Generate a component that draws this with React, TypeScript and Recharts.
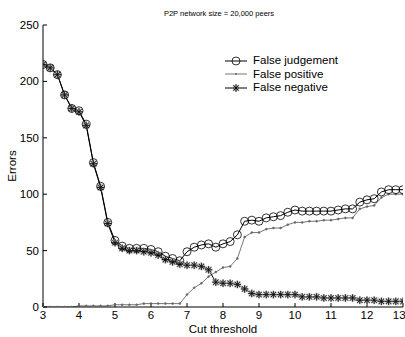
import React from 'react';
import { LineChart, Line, XAxis, YAxis, Legend } from 'recharts';

const thresholds = [
  3, 3.2, 3.4, 3.6, 3.8, 4, 4.2, 4.4, 4.6, 4.8,
  5, 5.2, 5.4, 5.6, 5.8, 6, 6.2, 6.4, 6.6, 6.8,
  7, 7.2, 7.4, 7.6, 7.8, 8, 8.2, 8.4, 8.6, 8.8,
  9, 9.2, 9.4, 9.6, 9.8, 10, 10.2, 10.4, 10.6, 10.8,
  11, 11.2, 11.4, 11.6, 11.8, 12, 12.2, 12.4, 12.6, 12.8, 13,
];
const falseJudgement = [
  215, 212, 206, 188, 176, 174, 162, 128, 107, 75,
  59, 54, 52, 52, 52, 51, 49, 45, 43, 41,
  49, 53, 55, 56, 53, 56, 58, 64, 76, 77,
  76, 79, 80, 81, 84, 86, 85, 85, 85, 85,
  85, 86, 87, 87, 93, 95, 96, 102, 104, 104, 104,
];
const falsePositive = [
  0, 0, 0, 0, 0, 1, 1, 1, 1, 1,
  2, 2, 2, 2, 3, 3, 3, 3, 3, 3,
  11, 17, 21, 27, 31, 35, 36, 43, 62, 66,
  66, 69, 70, 70, 73, 75, 75, 76, 76, 77,
  77, 78, 79, 79, 87, 89, 90, 97, 100, 100, 100,
];
const falseNegative = [
  215, 212, 206, 188, 176, 173, 161, 127, 106, 74,
  57, 52, 50, 50, 49, 48, 46, 42, 40, 38,
  37, 37, 36, 33, 22, 21, 21, 20, 16, 12,
  11, 11, 11, 11, 11, 11, 9, 9, 9, 8,
  8, 8, 8, 8, 6, 6, 6, 5, 5, 5, 5,
];
const xTicks = [3, 4, 5, 6, 7, 8, 9, 10, 11, 12, 13];
const yTicks = [0, 50, 100, 150, 200, 250];
const seriesNames = ['False judgement', 'False positive', 'False negative'];
const title = 'P2P network size = 20,000 peers';
const xLabel = 'Cut threshold';
const yLabel = 'Errors';

const data = thresholds.map((t, i) => ({
  t,
  fj: falseJudgement[i],
  fp: falsePositive[i],
  fn: falseNegative[i],
}));

const FONT = '"Liberation Sans", Arial, Helvetica, sans-serif';

const StarShape = ({ cx, cy, size, color, width }: any) => {
  const d = size * 0.72;
  return (
    <g stroke={color} strokeWidth={width}>
      <line x1={cx - size} y1={cy} x2={cx + size} y2={cy} />
      <line x1={cx} y1={cy - size} x2={cx} y2={cy + size} />
      <line x1={cx - d} y1={cy - d} x2={cx + d} y2={cy + d} />
      <line x1={cx - d} y1={cy + d} x2={cx + d} y2={cy - d} />
    </g>
  );
};

const Star = ({ cx, cy }: any) => {
  if (cx == null || cy == null) return null;
  return (
    <g>
      <StarShape cx={cx} cy={cy} size={4} color="#aaa" width={1.8} />
      <StarShape cx={cx} cy={cy} size={3.6} color="#111" width={0.9} />
    </g>
  );
};

const renderLegend = () => (
  <div style={{ fontFamily: FONT, fontSize: 11.5, color: '#000', lineHeight: '13.5px' }}>
    {seriesNames.map((name, i) => (
      <div key={name} style={{ display: 'flex', alignItems: 'center', height: 13.5 }}>
        <svg width={22} height={12} style={{ display: 'block' }}>
          <line x1={0} y1={6} x2={22} y2={6} stroke={i === 1 ? '#777' : '#000'} strokeWidth={1} />
          {i === 0 && <circle cx={11} cy={6} r={4} fill="none" stroke="#000" strokeWidth={0.8} />}
          {i === 1 && <circle cx={11} cy={6} r={1} fill="#666" />}
          {i === 2 && <Star cx={11} cy={6} />}
        </svg>
        <span style={{ marginLeft: 6, whiteSpace: 'nowrap' }}>{name}</span>
      </div>
    ))}
  </div>
);

const YLabel = (props: any) => {
  const vb = props.viewBox || {};
  const x = 12;
  const y = (vb.y || 0) + (vb.height || 0) / 2;
  return (
    <text x={x} y={y} transform={`rotate(-90, ${x}, ${y})`} textAnchor="middle" dominantBaseline="central"
      fontFamily={FONT} fontSize={11.5} fill="#000">{yLabel}</text>
  );
};

const tickStyle = { fill: '#000', fontSize: 11.5, fontFamily: FONT };

export default function App() {
  return (
    <div style={{ position: 'absolute', left: 0, top: 0, width: 405, height: 337, background: '#fff', overflow: 'hidden' }}>
      <div style={{ position: 'absolute', left: 0, width: 438, top: 9, textAlign: 'center', fontFamily: FONT, fontSize: 7.5, color: '#000', lineHeight: '9px' }}>
        {title}
      </div>
      <LineChart width={405} height={337} data={data} margin={{ top: 25, right: 2, bottom: 0, left: 0 }}>
        <XAxis xAxisId="b" dataKey="t" type="number" domain={[3, 13]} ticks={xTicks} orientation="bottom"
          height={30} tickSize={-4} tickMargin={8} axisLine={{ stroke: '#000' }} tickLine={{ stroke: '#000' }}
          tick={tickStyle} allowDataOverflow
          label={{ value: xLabel, position: 'insideBottom', offset: 4, fill: '#000', fontSize: 11.5, fontFamily: FONT }} />
        <XAxis xAxisId="t" dataKey="t" type="number" domain={[3, 13]} ticks={xTicks} orientation="top"
          height={0} tickSize={-4} tick={false} axisLine={{ stroke: '#000' }} tickLine={{ stroke: '#000' }} allowDataOverflow />
        <YAxis yAxisId="l" type="number" domain={[0, 250]} ticks={yTicks} orientation="left" width={43}
          tickSize={-4} tickMargin={8} axisLine={{ stroke: '#000' }} tickLine={{ stroke: '#000' }} tick={tickStyle}
          allowDataOverflow label={<YLabel />} />
        <YAxis yAxisId="r" type="number" domain={[0, 250]} ticks={yTicks} orientation="right" width={0}
          tickSize={-4} tick={false} axisLine={{ stroke: '#000' }} tickLine={{ stroke: '#000' }} allowDataOverflow />
        <Legend layout="vertical" align="center" verticalAlign="middle" content={renderLegend}
          wrapperStyle={{ left: 225, top: 54, width: 'auto', height: 'auto', bottom: 'auto', right: 'auto' }} />
        <Line xAxisId="b" yAxisId="l" dataKey="fp" name={seriesNames[1]} stroke="#777" strokeWidth={1}
          dot={{ r: 1, fill: '#666', stroke: '#666', strokeWidth: 0.5 }} isAnimationActive={false} />
        <Line xAxisId="b" yAxisId="l" dataKey="fn" name={seriesNames[2]} stroke="#000" strokeWidth={1}
          dot={(p: any) => <Star key={`s-${p.index}`} cx={p.cx} cy={p.cy} />} isAnimationActive={false} />
        <Line xAxisId="b" yAxisId="l" dataKey="fj" name={seriesNames[0]} stroke="#000" strokeWidth={1}
          dot={{ r: 4, fill: 'none', stroke: '#000', strokeWidth: 0.8 }} isAnimationActive={false} />
      </LineChart>
    </div>
  );
}
